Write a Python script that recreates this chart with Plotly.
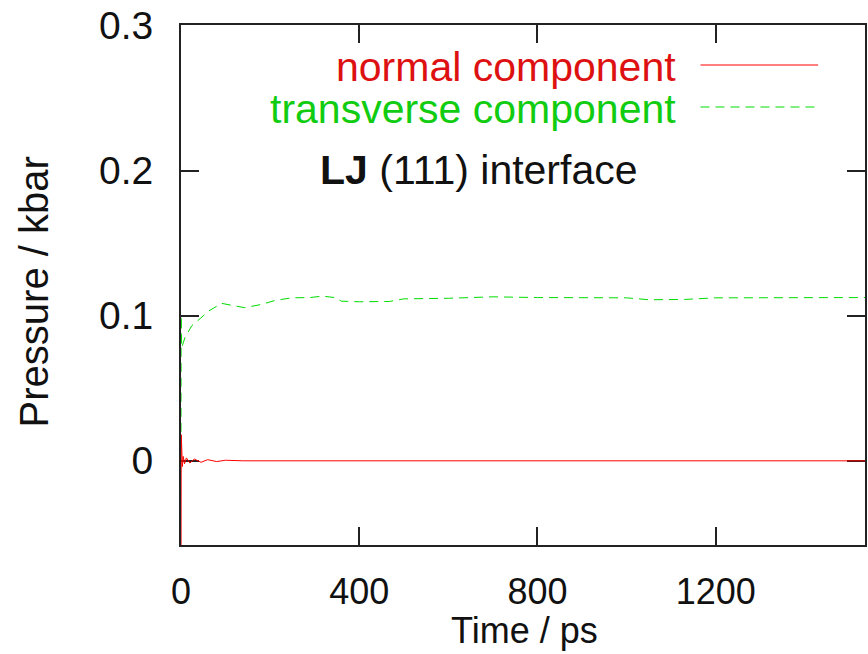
import plotly.graph_objects as go

# Data
time_normal = [0, 0.5, 1, 2, 3, 5, 8, 12, 20, 30, 45, 60, 80, 100, 140, 200, 400, 800, 1200, 1535]
p_normal = [-0.09, 0.018, -0.02, 0.006, -0.004, 0.003, -0.002, 0.002, -0.0015, 0.0012,
            -0.001, 0.0008, -0.0005, 0.0004, 0.0, 0.0, 0.0, 0.0, 0.0, 0.0]

time_transverse = [0, 0.3, 0.6, 1.5, 9, 24, 43, 61, 91, 121, 143, 181, 211, 248, 290, 317,
                   345, 360, 400, 468, 500, 600, 700, 800, 900, 1000, 1050, 1100, 1130,
                   1200, 1300, 1400, 1535]
p_transverse = [0.02, 0.10, 0.072, 0.078, 0.085, 0.093, 0.098, 0.103, 0.1085, 0.1066, 0.1055,
                0.1078, 0.1105, 0.1123, 0.1125, 0.1135, 0.1125, 0.110, 0.1096, 0.1098, 0.1116,
                0.112, 0.113, 0.1125, 0.1123, 0.1123, 0.111, 0.111, 0.1112, 0.1123, 0.1123,
                0.1123, 0.1125]

x_ticks = [0, 400, 800, 1200]
y_ticks = [0, 0.1, 0.2, 0.3]
y_tick_labels = ["0", "0.1", "0.2", "0.3"]

FONT = "Liberation Sans, Arial, sans-serif"
RED = "#ff0000"
GREEN = "#00dd00"

fig = go.Figure()
fig.add_trace(go.Scatter(x=time_normal, y=p_normal, mode="lines",
                         line=dict(color=RED, width=1), name="normal component",
                         showlegend=False))
fig.add_trace(go.Scatter(x=time_transverse, y=p_transverse, mode="lines",
                         line=dict(color=GREEN, width=1, dash="9px,6px"),
                         name="transverse component", showlegend=False))

W, H = 868, 654
L, R, T, B = 181, 1, 25, 109

axis_common = dict(showline=True, linecolor="#222222", linewidth=2, mirror="ticks",
                   ticks="inside", ticklen=18, tickwidth=2, tickcolor="#222222",
                   showgrid=False, zeroline=False, layer="below traces")

fig.update_layout(
    width=W, height=H,
    margin=dict(l=L, r=R, t=T, b=B, pad=0),
    paper_bgcolor="white", plot_bgcolor="white",
    xaxis=dict(range=[0, 1535], tickvals=x_ticks, ticklabelstandoff=14,
               tickfont=dict(family=FONT, size=36, color="#111111"), **axis_common),
    yaxis=dict(range=[-0.058, 0.3003], tickvals=y_ticks, ticktext=y_tick_labels,
               ticklabelstandoff=18,
               tickfont=dict(family=FONT, size=39, color="#111111"), **axis_common),
    showlegend=False,
)

def px_x(px):
    return (px - L) / (W - L - R)

def px_y(py):
    return 1 - (py - T) / (H - T - B)

# Axis titles
fig.add_annotation(text="Time / ps", xref="paper", yref="paper", x=px_x(526), y=px_y(630),
                   showarrow=False, xanchor="center", yanchor="middle",
                   font=dict(family=FONT, size=36, color="#111111"))
fig.add_annotation(text="Pressure / kbar", xref="paper", yref="paper", x=px_x(34), y=px_y(292),
                   showarrow=False, xanchor="center", yanchor="middle", textangle=-90,
                   font=dict(family=FONT, size=40, color="#111111"))

# Key
fig.add_annotation(text="normal component", xref="paper", yref="paper", x=px_x(679), y=px_y(67),
                   showarrow=False, xanchor="right", yanchor="middle",
                   font=dict(family=FONT, size=41, color="#dd1111"))
fig.add_annotation(text="transverse component", xref="paper", yref="paper", x=px_x(679), y=px_y(109),
                   showarrow=False, xanchor="right", yanchor="middle",
                   font=dict(family=FONT, size=41, color="#11cc11"))
fig.add_shape(type="line", xref="paper", yref="paper", x0=px_x(702), x1=px_x(820),
              y0=px_y(65), y1=px_y(65), line=dict(color=RED, width=1))
fig.add_shape(type="line", xref="paper", yref="paper", x0=px_x(702), x1=px_x(820),
              y0=px_y(107), y1=px_y(107), line=dict(color=GREEN, width=1, dash="9px,6px"))

fig.add_annotation(text="<b>LJ</b> (111) interface", xref="paper", yref="paper",
                   x=px_x(318), y=px_y(170), showarrow=False, xanchor="left", yanchor="middle",
                   font=dict(family=FONT, size=41, color="#111111"))

fig.write_html("out.html")
